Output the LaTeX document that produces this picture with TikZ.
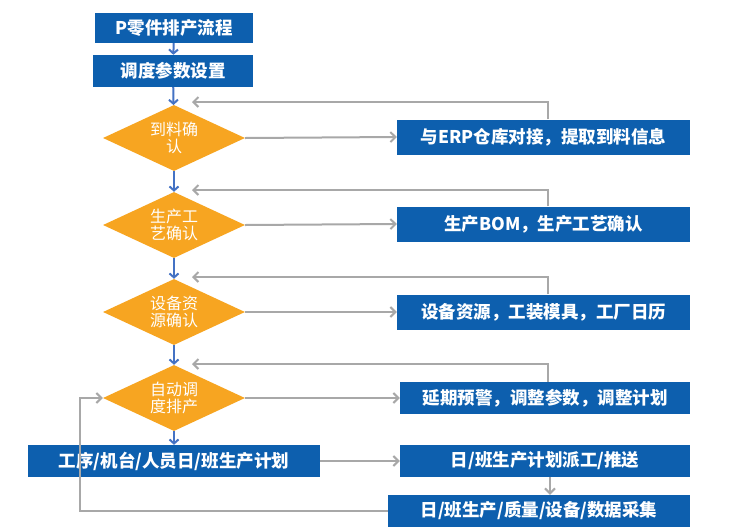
\documentclass[tikz,border=0pt]{standalone}
\usepackage{fontspec}
\newfontfamily\cjk{Noto Sans CJK SC}
\usetikzlibrary{shapes.geometric,arrows.meta}
\definecolor{bbox}{HTML}{0D5FAE}
\definecolor{dia}{HTML}{F7A521}
\definecolor{gline}{HTML}{A8A8A8}
\definecolor{barr}{HTML}{4472C4}
\tikzset{
 bx/.style={fill=bbox,text=white,font=\cjk\bfseries\fontsize{17.5}{19}\selectfont,inner sep=0pt,minimum height=32pt},
 dm/.style={diamond,fill=dia,text=white,font=\cjk\fontsize{16}{17}\selectfont,inner sep=0pt,minimum width=142pt,minimum height=66pt,aspect=2.15,align=center},
 ga/.style={draw=gline,line width=2pt,-{Straight Barb[length=5pt,width=10pt]}},
 ba/.style={draw=barr,line width=2pt,-{Straight Barb[length=4pt,width=9pt]}},
}
\begin{document}
\begin{tikzpicture}[x=1pt,y=-1pt]
\useasboundingbox[fill=white] (0,0) rectangle (737,531);
\node[bx,minimum width=158pt,minimum height=30pt] (t) at (174,28) {P零件排产流程};
\node[bx,minimum width=160pt] (p) at (173,71) {调度参数设置};
\node[dm] (d1) at (174,138) {到料确\\认};
\node[dm] (d2) at (174,225) {生产工\\艺确认};
\node[dm] (d3) at (174,312) {设备资\\源确认};
\node[dm] (d4) at (174,398) {自动调\\度排产};
\node[bx,minimum width=292pt] (l) at (174,461) {工序/机台/人员日/班生产计划};
\node[bx,minimum width=293pt,minimum height=35pt] (r1) at (543.5,137) {与ERP仓库对接，提取到料信息};
\node[bx,minimum width=293pt,minimum height=35pt] (r2) at (543.5,224) {生产BOM，生产工艺确认};
\node[bx,minimum width=293pt,minimum height=35pt] (r3) at (543.5,312) {设备资源，工装模具，工厂日历};
\node[bx,minimum width=290pt] (r4) at (545,398) {延期预警，调整参数，调整计划};
\node[bx,minimum width=290pt] (r5) at (545,461) {日/班生产计划派工/推送};
\node[bx,minimum width=302pt] (r6) at (539,511) {日/班生产/质量/设备/数据采集};
\draw[ba] (t) -- (p);
\draw[ba] (p) -- (d1);
\draw[ba] (d1) -- (d2);
\draw[ba] (d2) -- (d3);
\draw[ba] (d3) -- (d4);
\draw[ba] (d4) -- (l);
\foreach \d/\r/\y in {d1/r1/102,d2/r2/190,d3/r3/277,d4/r4/364}{
 \draw[ga] (\d.east) -- (\r.west);
 \draw[ga] (\r.north -| 548,0) -- (548,\y) -- (192,\y);
}
\draw[ga] (l) -- (r5);
\draw[ga] (r5.south -| 550,0) -- (r6.north -| 550,0);
\draw[ga] (r6.west) -- (80,511) -- (80,398) -- (d4.west);
\end{tikzpicture}
\end{document}
